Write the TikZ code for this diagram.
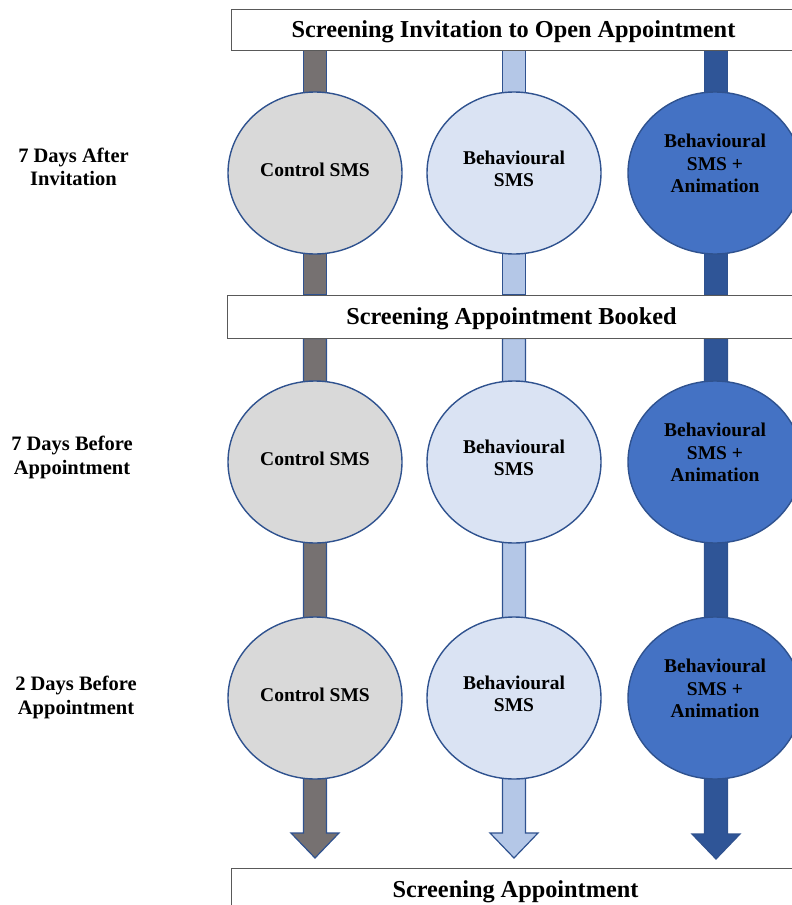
\documentclass[tikz,border=0pt]{standalone}
\usepackage{fontspec}
\setmainfont{Liberation Serif}
\usetikzlibrary{shapes.geometric,calc,backgrounds}

\definecolor{edgeblue}{HTML}{2F528F}
\definecolor{boxline}{HTML}{595959}
\definecolor{ctrlfill}{HTML}{D9D9D9}
\definecolor{behavfill}{HTML}{DAE3F3}
\definecolor{animfill}{HTML}{4472C4}
\definecolor{ctrlbar}{HTML}{767171}
\definecolor{behavbar}{HTML}{B4C7E7}
\definecolor{animbar}{HTML}{2F5597}

\tikzset{
  stagebox/.style={draw=boxline, line width=1pt, fill=white, inner sep=0pt,
    font=\fontsize{24.3}{28}\selectfont\bfseries},
  smscircle/.style={ellipse, draw=edgeblue, line width=1.4pt,
    minimum width=174pt, minimum height=162pt, inner sep=0pt},
  smstext/.style={align=center, inner sep=0pt,
    font=\fontsize{19.5}{22.5}\selectfont\bfseries},
  timelabel/.style={align=center, inner sep=0pt,
    font=\fontsize{20.5}{23.5}\selectfont\bfseries},
  flowbar/.style={draw=edgeblue, line width=1.2pt, line join=miter},
}
% box captions sit slightly low in their boxes (box size kept as is)
\newcommand{\lowcap}[1]{\raisebox{-2.5pt}[\height][\depth]{#1}}

\begin{document}
\begin{tikzpicture}[x=1pt,y=-1pt]
\useasboundingbox (0,0) rectangle (792,905);
\clip (0,0) rectangle (792,905);

% column axes and arrow tips
\coordinate (colC) at (315,0);
\coordinate (colB) at (514,0);
\coordinate (colA) at (716,0);
\coordinate (tipC) at (315,858);
\coordinate (tipB) at (514,858);
\coordinate (tipA) at (716,859);

% stage boxes
\node[stagebox, minimum width=565pt, minimum height=41pt] (invite) at (513.5,29.5)
  {\lowcap{Screening Invitation to Open Appointment}};
\node[stagebox, minimum width=569pt, minimum height=43pt] (booked) at (511.5,316.5)
  {\lowcap{Screening Appointment Booked}};
\node[stagebox, minimum width=569pt, minimum height=42pt] (appt) at (515.5,889)
  {\lowcap{Screening Appointment}};

% time labels
\node[timelabel] (t1) at (73.5,167) {7 Days After\\Invitation};
\node[timelabel] (t2) at (72,457.5) {7 Days Before\\Appointment};
\node[timelabel] (t3) at (76,697.5) {2 Days Before\\Appointment};

% message circles
\foreach \r/\y in {1/173,2/462,3/698}{
  \node[smscircle, fill=ctrlfill]  (c\r) at (315,\y) {};
  \node[smscircle, fill=behavfill] (b\r) at (514,\y) {};
  \node[smscircle, fill=animfill]  (a\r) at (715,\y) {};
  \node[smstext] (ct\r) at ($(c\r.center)+(0,-3)$) {Control SMS};
  \node[smstext] (bt\r) at ($(b\r.center)+(0,-4)$) {Behavioural\\SMS};
  \node[smstext] (at\r) at ($(a\r.center)+(0,-9.5)$) {Behavioural\\SMS +\\Animation};
}

% flow bars behind the circles
\begin{pgfonlayer}{background}
\foreach \col/\tip/\fc in {colC/tipC/ctrlbar, colB/tipB/behavbar, colA/tipA/animbar}{
  \draw[flowbar, fill=\fc] ($(invite.south -| \col)+(-11.5,0)$) rectangle
                          ($(booked.north -| \col)+(11.5,0)$);
  \draw[flowbar, fill=\fc] ($(booked.south -| \col)+(-11.5,0)$)
    -- ($(\tip)+(-11.5,-25)$) -- ($(\tip)+(-24,-25)$) -- (\tip)
    -- ($(\tip)+(24,-25)$) -- ($(\tip)+(11.5,-25)$)
    -- ($(booked.south -| \col)+(11.5,0)$) -- cycle;
}
\end{pgfonlayer}
\end{tikzpicture}
\end{document}
